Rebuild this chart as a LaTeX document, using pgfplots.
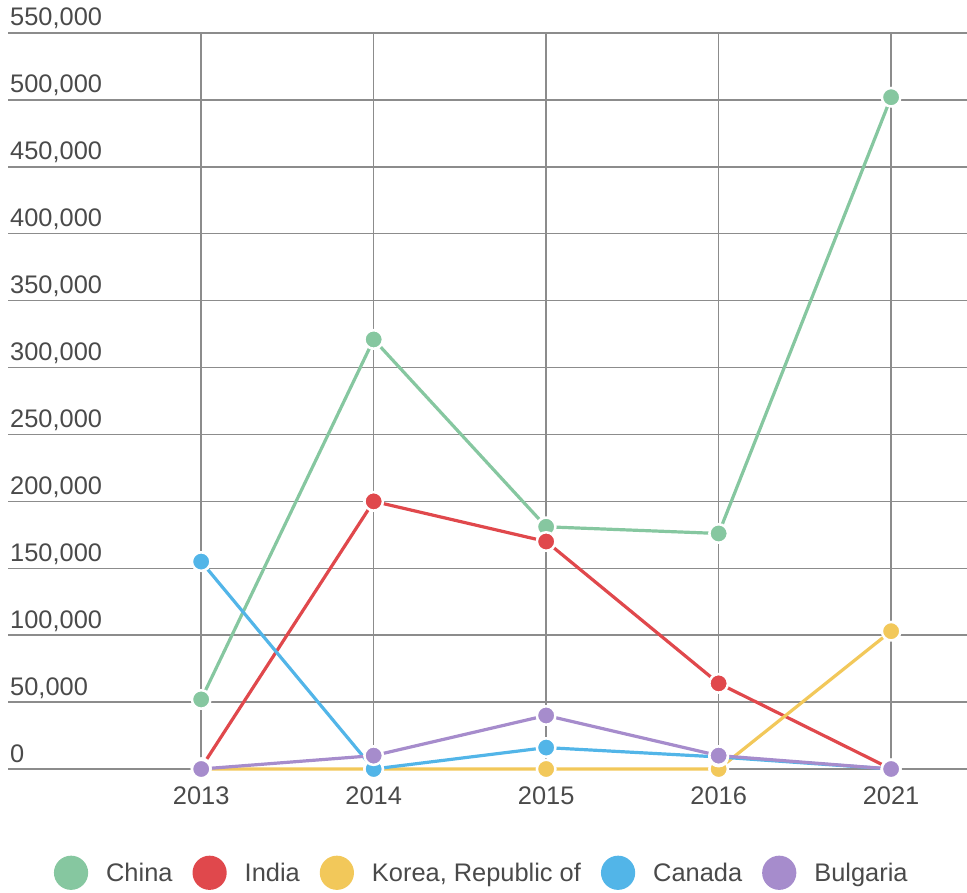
\documentclass[border=0pt]{standalone}
\usepackage{fontspec}
\setmainfont{Liberation Sans}
\usepackage{pgfplots}
\pgfplotsset{compat=1.18}
\definecolor{cChina}{HTML}{86C7A0}
\definecolor{cIndia}{HTML}{E0484C}
\definecolor{cKorea}{HTML}{F2C85A}
\definecolor{cCanada}{HTML}{52B5E8}
\definecolor{cBulgaria}{HTML}{A68CCC}
\definecolor{gridc}{HTML}{8C8C8C}
\definecolor{txt}{HTML}{4A4A4A}
\begin{document}
\begin{tikzpicture}
\begin{axis}[
  at={(8bp,124bp)}, anchor=south west,
  scale only axis, width=959bp, height=736bp,
  xmin=-1.12, xmax=4.44, ymin=0, ymax=550000,
  xtick={0,1,2,3,4}, xticklabels={2013,2014,2015,2016,2021},
  ytick={0,50000,100000,150000,200000,250000,300000,350000,400000,450000,500000,550000},
  yticklabels={0,{50,000},{100,000},{150,000},{200,000},{250,000},{300,000},{350,000},{400,000},{450,000},{500,000},{550,000}},
  scaled y ticks=false,
  grid=major,
  major grid style={gridc, line width=1.5bp},
  axis line style={draw=none},
  major tick length=0pt,
  clip=false,
  ticklabel style={font=\fontsize{25.5}{30}\selectfont, text=txt},
  yticklabel style={anchor=base west, inner sep=0pt, xshift=2bp, yshift=7bp},
  xticklabel style={yshift=-14bp},
  legend columns=5,
  legend style={at={(0.494,-0.141)}, anchor=center, draw=none, fill=none,
    font=\fontsize{25.5}{30}\selectfont, text=txt,
    /tikz/every even column/.append style={column sep=18bp},
    /tikz/every odd column/.append style={column sep=16bp}},
  legend cell align=left,
  legend image code/.code={\fill (15.5bp,0bp) circle (15.5bp);},
  every axis plot/.append style={line width=3.2bp, mark=*, mark size=9.25bp},
]
\addplot[cChina, mark options={draw=white, line width=2.5bp, fill=cChina}]
  coordinates {(0,52000) (1,321000) (2,181000) (3,176000) (4,502000)};
\addlegendentry{China}
\addplot[cIndia, mark options={draw=white, line width=2.5bp, fill=cIndia}]
  coordinates {(0,1000) (1,200000) (2,170000) (3,64000) (4,0)};
\addlegendentry{India}
\addplot[cKorea, mark options={draw=white, line width=2.5bp, fill=cKorea}]
  coordinates {(0,0) (1,0) (2,0) (3,0) (4,103000)};
\addlegendentry{Korea, Republic of}
\addplot[cCanada, mark options={draw=white, line width=2.5bp, fill=cCanada}]
  coordinates {(0,155000) (1,0) (2,16000) (3,9000) (4,0)};
\addlegendentry{Canada}
\addplot[cBulgaria, mark options={draw=white, line width=2.5bp, fill=cBulgaria}]
  coordinates {(0,0) (1,10000) (2,40000) (3,10000) (4,0)};
\addlegendentry{Bulgaria}
\end{axis}
\pgfresetboundingbox
\path[use as bounding box] (0,0) rectangle (967bp,893bp);
\end{tikzpicture}
\end{document}
